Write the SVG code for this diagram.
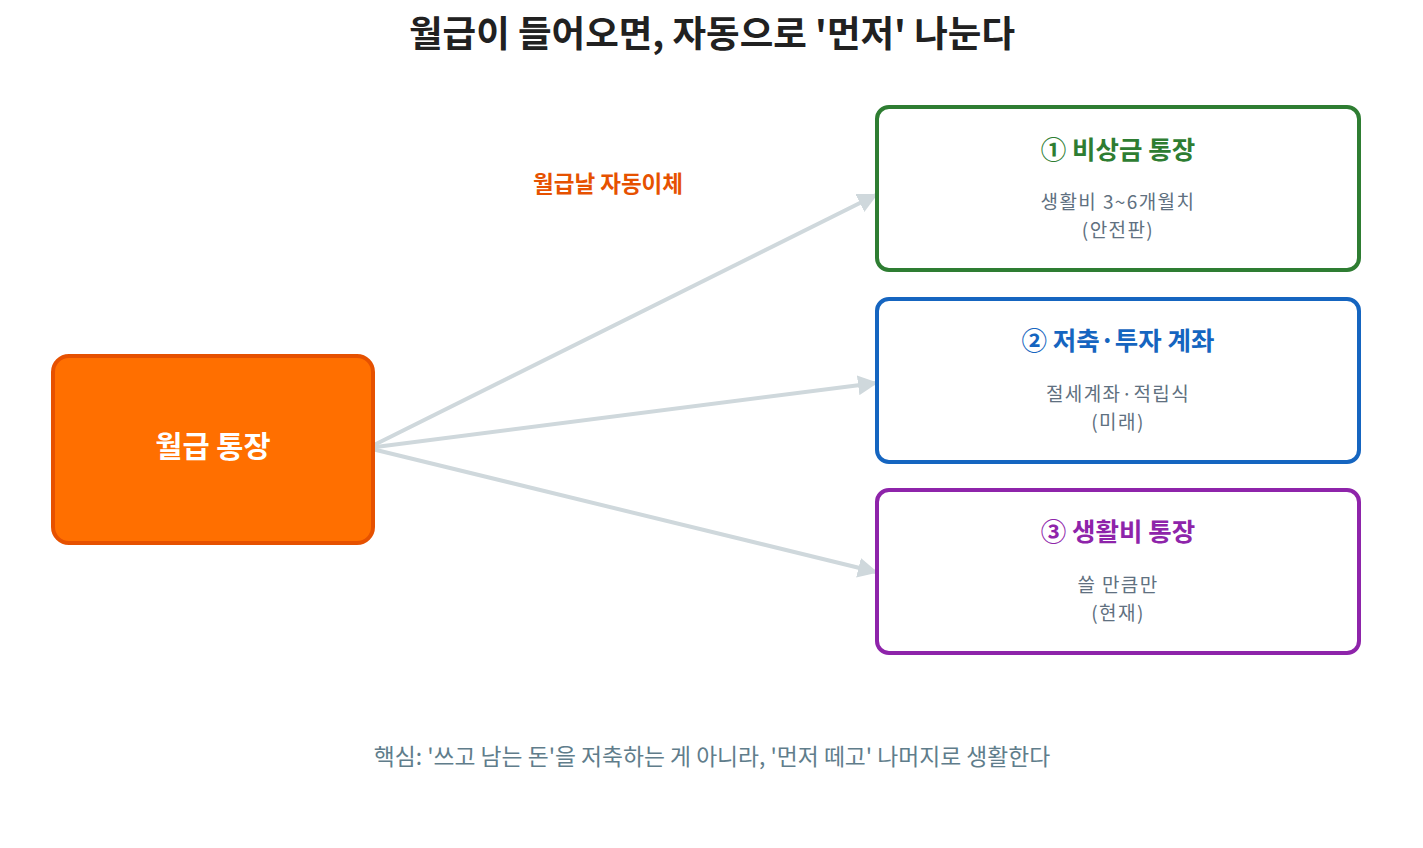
<svg xmlns="http://www.w3.org/2000/svg" width="1423" height="848" viewBox="0 0 1423 848">
<style>
text{font-family:"Noto Sans CJK KR","Noto Sans",sans-serif;text-anchor:middle}
.title{font-size:36.5px;font-weight:700;fill:#212121}
.hd{font-size:25.5px;font-weight:700}
.sub{font-size:19px;letter-spacing:1.4px;fill:#607080}
.box{fill:#fff;stroke-width:4}
.conn{stroke:#cfd8dc;stroke-width:4;fill:none}
</style>
<defs>
<marker id="ah" viewBox="0 0 10 10" refX="9" refY="5" markerWidth="5" markerHeight="5" orient="auto" markerUnits="strokeWidth">
<path d="M0,0 L10,5 L0,10 z" fill="#cfd8dc"/>
</marker>
</defs>
<rect width="1423" height="848" fill="#fff"/>
<text class="title" x="712" y="47">월급이 들어오면, 자동으로 '먼저' 나눈다</text>
<g id="connectors">
<line class="conn" x1="368" y1="448" x2="876" y2="195" marker-end="url(#ah)"/>
<line class="conn" x1="368" y1="448" x2="876" y2="383" marker-end="url(#ah)"/>
<line class="conn" x1="368" y1="448" x2="876" y2="572" marker-end="url(#ah)"/>
<text x="608" y="192" style="font-size:22.5px;font-weight:700;fill:#e65100">월급날 자동이체</text>
</g>
<g id="salary">
<rect x="53" y="356" width="320" height="187" rx="16" fill="#ff6f00" stroke="#e65100" stroke-width="4"/>
<text x="213" y="457" style="font-size:29.5px;font-weight:700;fill:#fff">월급 통장</text>
</g>
<g id="emergency">
<rect class="box" x="877" y="107" width="482" height="163" rx="12" stroke="#2e7d32"/>
<text class="hd" x="1118" y="159" fill="#2e7d32">① 비상금 통장</text>
<text class="sub" x="1118" y="209">생활비 3~6개월치</text>
<text class="sub" x="1118" y="237">(안전판)</text>
</g>
<g id="saving">
<rect class="box" x="877" y="299" width="482" height="163" rx="12" stroke="#1565c0"/>
<text class="hd" x="1118" y="350" fill="#1565c0">② 저축·투자 계좌</text>
<text class="sub" x="1118" y="401">절세계좌·적립식</text>
<text class="sub" x="1118" y="429">(미래)</text>
</g>
<g id="living">
<rect class="box" x="877" y="490" width="482" height="163" rx="12" stroke="#8e24aa"/>
<text class="hd" x="1118" y="541" fill="#8e24aa">③ 생활비 통장</text>
<text class="sub" x="1118" y="592">쓸 만큼만</text>
<text class="sub" x="1118" y="620">(현재)</text>
</g>
<text x="712" y="765" style="font-size:22.8px;fill:#607d8b">핵심: '쓰고 남는 돈'을 저축하는 게 아니라, '먼저 떼고' 나머지로 생활한다</text>
</svg>
